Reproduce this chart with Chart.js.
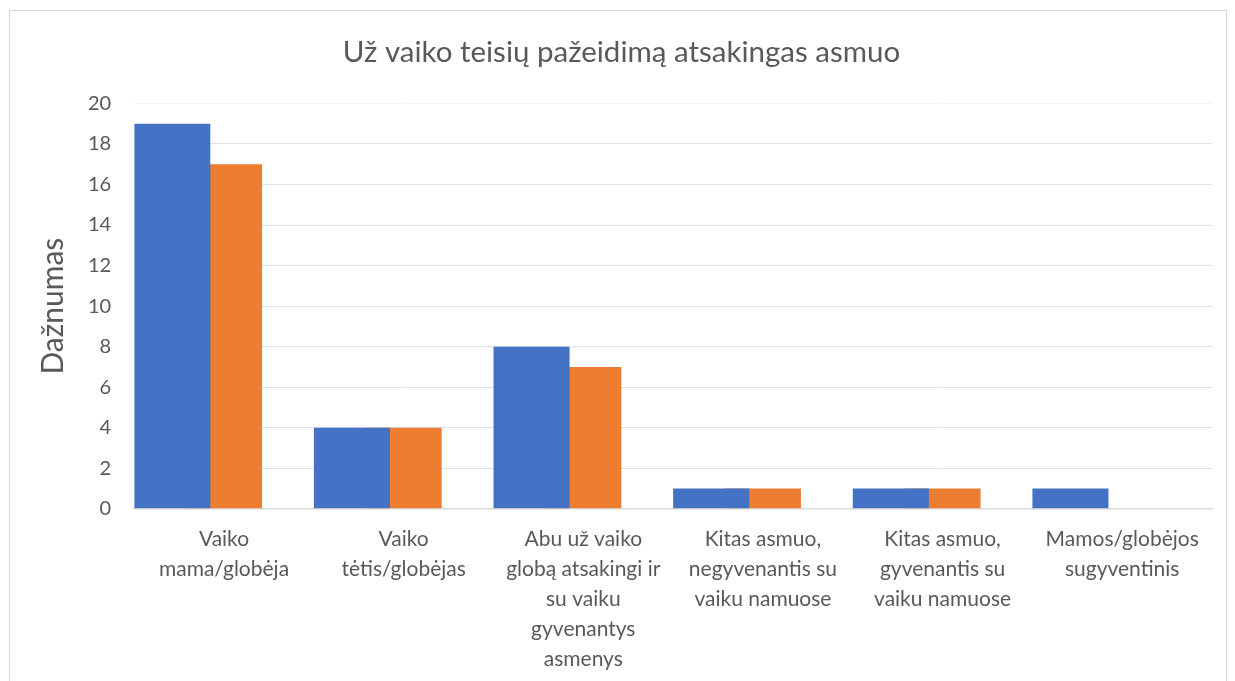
<!DOCTYPE html>
<html>
<head>
<meta charset="utf-8">
<script src="https://cdn.jsdelivr.net/npm/chart.js@4"></script>
<style>
  body { margin: 0; background: #fff; }
  #wrap { position: relative; width: 1235px; height: 681px; }
  #frame { position: absolute; left: 9px; top: 10px; width: 1218px; height: 680px; border: 1px solid #d9d9d9; box-sizing: border-box; }
  canvas { position: absolute; left: 0; top: 0; }
</style>
</head>
<body>
<div id="wrap">
  <div id="frame"></div>
  <canvas id="myBar" width="1235" height="681"></canvas>
</div>
<script>
const categories = [
  ['Vaiko', 'mama/globėja'],
  ['Vaiko', 'tėtis/globėjas'],
  ['Abu už vaiko', 'globą atsakingi ir', 'su vaiku', 'gyvenantys', 'asmenys'],
  ['Kitas asmuo,', 'negyvenantis su', 'vaiku namuose'],
  ['Kitas asmuo,', 'gyvenantis su', 'vaiku namuose'],
  ['Mamos/globėjos', 'sugyventinis']
];
const seriesBlue = [19, 4, 8, 1, 1, 1];
const seriesOrange = [17, 4, 7, 1, 1, 0];
// third series is empty in the original workbook, but it still takes a slot
const seriesEmpty = [null, null, null, null, null, null];

const textColor = '#595959';
const fontFamily = 'Lato, "Open Sans", sans-serif';

const barData = {
  labels: categories,
  datasets: [
    { label: 'Serija 1', data: seriesBlue, backgroundColor: '#4472c4' },
    { label: 'Serija 2', data: seriesOrange, backgroundColor: '#ed7d31' },
    { label: 'Serija 3', data: seriesEmpty, backgroundColor: '#a5a5a5' }
  ]
};

const config = {
  type: 'bar',
  data: barData,
  options: {
    responsive: false,
    animation: false,
    categoryPercentage: 0.864,
    barPercentage: 1.47,
    layout: { padding: { left: 31, right: 23, top: 0, bottom: 0 } },
    plugins: {
      legend: { display: false },
      tooltip: { enabled: false },
      title: {
        display: true,
        text: 'Už vaiko teisių pažeidimą atsakingas asmuo',
        color: textColor,
        font: { family: fontFamily, size: 29.5, weight: 'normal' },
        padding: { top: 35, bottom: 33 }
      }
    },
    scales: {
      x: {
        grid: { display: false },
        border: { color: '#d9d9d9', width: 1.5 },
        ticks: {
          color: textColor,
          font: { family: fontFamily, size: 21, lineHeight: 1.43 },
          maxRotation: 0,
          autoSkip: false,
          padding: 7
        }
      },
      y: {
        min: 0,
        max: 20,
        grid: {
          // top line is fainter in the original
          color: (ctx) => ctx.tick && ctx.tick.value === 20 ? '#f2f2f2' : '#d9e1f2',
          drawTicks: false
        },
        border: { display: false },
        ticks: {
          stepSize: 2,
          color: textColor,
          font: { family: fontFamily, size: 20 },
          padding: 23
        },
        title: {
          display: true,
          text: 'Dažnumas',
          color: textColor,
          font: { family: fontFamily, size: 30 },
          padding: { bottom: -6 }
        }
      }
    }
  }
};

var myBar = new Chart(document.getElementById('myBar'), config);
</script>
</body>
</html>
